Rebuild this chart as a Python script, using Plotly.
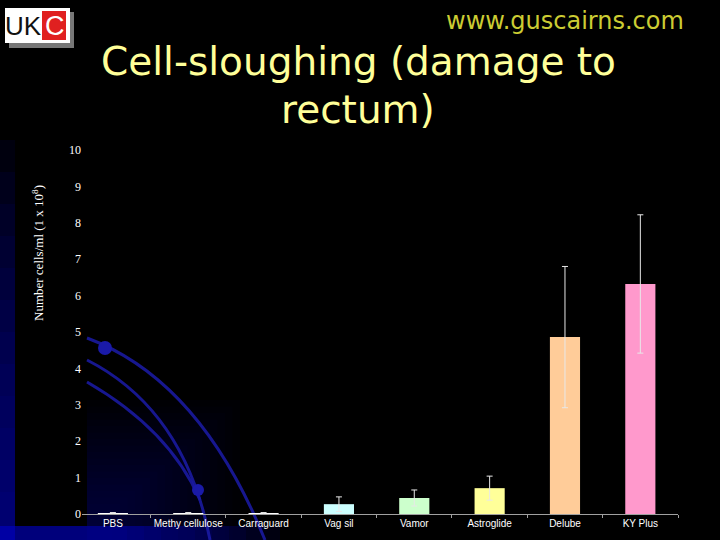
import plotly.graph_objects as go

categories = ["PBS", "Methy cellulose", "Carraguard", "Vag sil", "Vamor", "Astroglide", "Delube", "KY Plus"]
values = [0.02, 0.02, 0.02, 0.27, 0.44, 0.71, 4.86, 6.32]
errors = [0.02, 0.02, 0.02, 0.20, 0.22, 0.33, 1.94, 1.90]
bar_colors = ["#FFFFFF", "#FFFFFF", "#FFFFFF", "#CCFFFF", "#CCFFCC", "#FFFF99", "#FFCC99", "#FF99CC"]
y_ticks = [0, 1, 2, 3, 4, 5, 6, 7, 8, 9, 10]

W, H = 720, 540
L, R, T, B = 82, 42, 150, 26
PW, PH = W - L - R, H - T - B


def px(x):
    return (x - L) / PW


def py(y):
    return (H - B - y) / PH


fig = go.Figure()
fig.add_trace(go.Bar(
    x=categories, y=values,
    marker=dict(color=bar_colors, line=dict(width=0)),
    width=0.4,
    error_y=dict(type="data", array=errors, visible=True, color="#E8E8E8", thickness=1, width=3),
    showlegend=False,
))

shapes = []
# blue gradient glow on left/bottom edges
for i in range(12):
    shapes.append(dict(type="rect", xref="paper", yref="paper", layer="below",
                       x0=px(0), x1=px(15), y0=py(540), y1=py(140 + i * 32),
                       fillcolor="#0000CC", opacity=0.07, line=dict(width=0)))
    shapes.append(dict(type="rect", xref="paper", yref="paper", layer="below",
                       x0=px(0), x1=px(280 - i * 17), y0=py(540), y1=py(526),
                       fillcolor="#0000CC", opacity=0.08, line=dict(width=0)))
for i in range(20):
    shapes.append(dict(type="rect", xref="paper", yref="paper", layer="below",
                       x0=px(87), x1=px(240 - i * 7.5), y0=py(540), y1=py(400 + i * 6.5),
                       fillcolor="#0000B0", opacity=0.022, line=dict(width=0)))

# black panel behind y labels
shapes.append(dict(type="rect", xref="paper", yref="paper", layer="below",
                   x0=px(15), x1=px(87), y0=py(526), y1=py(140),
                   fillcolor="#000000", line=dict(width=0)))


def path_px(pts):
    (x0, y0), (cx, cy), (x1, y1) = pts
    return f"M {px(x0)} {py(y0)} Q {px(cx)} {py(cy)} {px(x1)} {py(y1)}"


arcs = [
    [(87, 338), (200, 380), (265, 540)],
    [(87, 360), (185, 410), (210, 540)],
    [(87, 382), (170, 430), (200, 500)],
]
for a in arcs:
    shapes.append(dict(type="path", xref="paper", yref="paper", layer="below",
                       path=path_px(a), line=dict(color="#1C1CA8", width=3), opacity=0.85))
for (cx, cy, r) in [(105, 348, 7), (198, 490, 6)]:
    shapes.append(dict(type="circle", xref="paper", yref="paper", layer="below",
                       x0=px(cx - r), x1=px(cx + r), y0=py(cy + r), y1=py(cy - r),
                       fillcolor="#1A1AA8", line=dict(width=0)))

# logo
shapes.append(dict(type="rect", xref="paper", yref="paper", layer="above",
                   x0=px(9), x1=px(74), y0=py(48), y1=py(12),
                   fillcolor="#777777", line=dict(width=0)))
shapes.append(dict(type="rect", xref="paper", yref="paper", layer="above",
                   x0=px(5), x1=px(70), y0=py(43), y1=py(8),
                   fillcolor="#FFFFFF", line=dict(width=0)))
shapes.append(dict(type="rect", xref="paper", yref="paper", layer="above",
                   x0=px(42), x1=px(66), y0=py(40), y1=py(11),
                   fillcolor="#E02020", line=dict(width=0)))

annotations = [
    dict(text="Cell-sloughing (damage to", x=px(358), y=py(62), xref="paper", yref="paper",
         showarrow=False, font=dict(family="DejaVu Sans", size=39, color="#FFFF99"),
         xanchor="center", yanchor="middle"),
    dict(text="rectum)", x=px(358), y=py(110), xref="paper", yref="paper",
         showarrow=False, font=dict(family="DejaVu Sans", size=39, color="#FFFF99"),
         xanchor="center", yanchor="middle"),
    dict(text="www.guscairns.com", x=px(686), y=py(21), xref="paper", yref="paper",
         showarrow=False, font=dict(family="DejaVu Sans", size=24, color="#CCCC33"),
         xanchor="right", yanchor="middle"),
    dict(text="Number cells/ml (1 x 10<sup>8</sup>)", x=px(38), y=py(253), xref="paper", yref="paper",
         showarrow=False, textangle=-90,
         font=dict(family="Liberation Serif", size=13, color="#FFFFFF"),
         xanchor="center", yanchor="middle"),
    dict(text="UK", x=px(23), y=py(26), xref="paper", yref="paper", showarrow=False,
         font=dict(family="Liberation Sans", size=26, color="#111111"), xanchor="center", yanchor="middle"),
    dict(text="C", x=px(55), y=py(26), xref="paper", yref="paper", showarrow=False,
         font=dict(family="Liberation Sans", size=27, color="#FFFFFF"), xanchor="center", yanchor="middle"),
]

fig.update_layout(
    width=W, height=H,
    margin=dict(l=L, r=R, t=T, b=B, autoexpand=False),
    paper_bgcolor="#000000", plot_bgcolor="rgba(0,0,0,0)",
    shapes=shapes, annotations=annotations,
    bargap=0.6,
)
fig.update_xaxes(
    range=[-0.41, 7.5], showgrid=False, zeroline=False, automargin=False,
    showline=True, linecolor="#A0A0A0", linewidth=1, tickangle=0,
    ticks="outside", tickson="boundaries", ticklen=3, tickcolor="#A0A0A0",
    tickfont=dict(family="Liberation Sans", size=10, color="#FFFFFF"),
)
fig.update_yaxes(
    range=[0, 10], tickvals=y_ticks, showgrid=False, zeroline=False, showline=False,
    automargin=False, ticks="", tickfont=dict(family="Liberation Serif", size=12, color="#FFFFFF"),
)

fig.write_html(
    "out.html",
    config={"displayModeBar": False},
    post_script="document.body.style.margin='0';document.body.style.background='#000';",
)
